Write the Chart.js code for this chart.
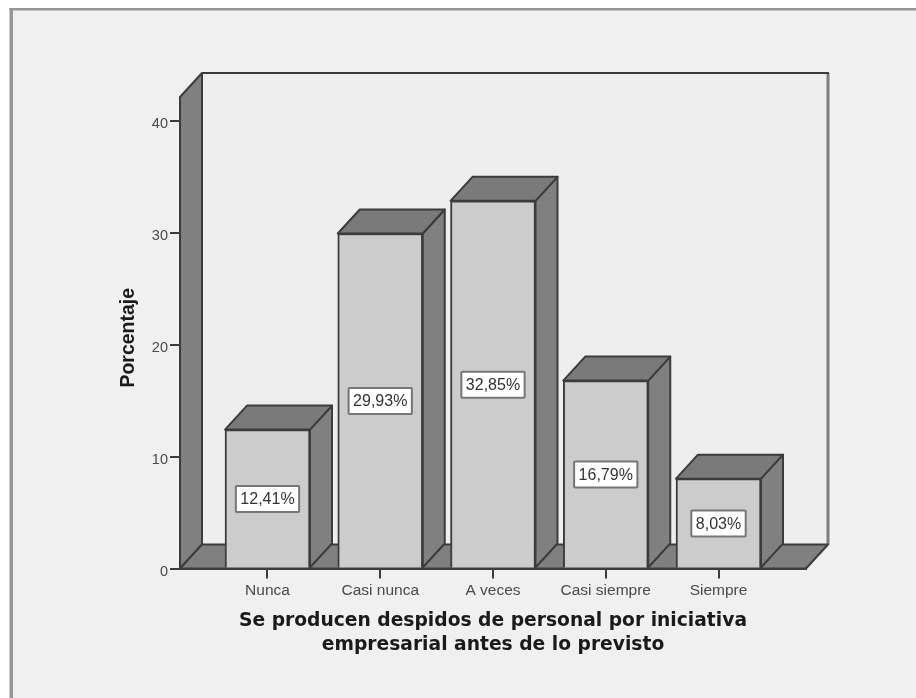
<!DOCTYPE html>
<html>
<head>
<meta charset="utf-8">
<style>
  html, body { margin: 0; padding: 0; background: #ffffff; }
  #wrap { width: 916px; height: 698px; }
</style>
<script src="https://cdn.jsdelivr.net/npm/chart.js@4/dist/chart.umd.min.js"></script>
</head>
<body>
<div id="wrap"><canvas id="chart" width="916" height="698"></canvas></div>
<script>
const categories = ['Nunca', 'Casi nunca', 'A veces', 'Casi siempre', 'Siempre'];
const percentages = [12.41, 29.93, 32.85, 16.79, 8.03];
const yTicks = [0, 10, 20, 30, 40];
const xTitleLines = ['Se producen despidos de personal por iniciativa', 'empresarial antes de lo previsto'];
const yTitle = 'Porcentaje';

const DEPTH_X = 22, DEPTH_Y = 24;
const INK = '#3c3c3c', SIDE = '#808080', FRONT = '#cccccc', WALL = '#eeeeee', PAGE = '#f0f0f0';

function poly(ctx, pts, fill, stroke, lw) {
  ctx.beginPath();
  pts.forEach((p, i) => i ? ctx.lineTo(p[0], p[1]) : ctx.moveTo(p[0], p[1]));
  ctx.closePath();
  if (fill) { ctx.fillStyle = fill; ctx.fill(); }
  if (stroke) { ctx.strokeStyle = stroke; ctx.lineWidth = lw || 2; ctx.lineJoin = 'round'; ctx.stroke(); }
}

// Panel background and the frame on its top and left sides
const framePlugin = {
  id: 'frame',
  beforeDraw(chart) {
    const { ctx, width, height } = chart;
    ctx.save();
    ctx.fillStyle = '#ffffff';
    ctx.fillRect(0, 0, width, height);
    ctx.fillStyle = PAGE;
    ctx.fillRect(11, 9, width - 11, height - 9);
    ctx.fillStyle = '#969696';
    ctx.fillRect(9.5, 8, 3.5, height - 8);
    ctx.fillRect(9.5, 8, width - 9.5, 2.5);
    ctx.restore();
  }
};

// Back wall, left wall and floor of the 3D box, placed from the chart area
const boxPlugin = {
  id: 'box',
  beforeDatasetsDraw(chart) {
    const { ctx, chartArea: a } = chart;
    const dx = DEPTH_X, dy = DEPTH_Y;
    ctx.save();
    poly(ctx, [[a.left + dx, a.top - dy], [a.right + dx, a.top - dy], [a.right + dx, a.bottom - dy], [a.left + dx, a.bottom - dy]], WALL);
    ctx.strokeStyle = '#7e7e7e'; ctx.lineWidth = 3;
    ctx.beginPath();
    ctx.moveTo(a.right + dx, a.top - dy); ctx.lineTo(a.right + dx, a.bottom - dy);
    ctx.stroke();
    ctx.strokeStyle = INK; ctx.lineWidth = 2;
    ctx.beginPath();
    ctx.moveTo(a.left + dx, a.top - dy); ctx.lineTo(a.right + dx + 1, a.top - dy);
    ctx.stroke();
    poly(ctx, [[a.left, a.top], [a.left + dx, a.top - dy], [a.left + dx, a.bottom - dy], [a.left, a.bottom]], SIDE, INK, 2);
    poly(ctx, [[a.left, a.bottom], [a.left + dx, a.bottom - dy], [a.right + dx, a.bottom - dy], [a.right, a.bottom]], SIDE, INK, 2);
    ctx.restore();
  }
};

// Side and top faces behind each bar, the white value boxes and the vertical axis title
const barFacesPlugin = {
  id: 'barFaces',
  beforeDatasetDraw(chart) {
    const { ctx } = chart;
    const dx = DEPTH_X, dy = DEPTH_Y;
    ctx.save();
    chart.getDatasetMeta(0).data.forEach(bar => {
      const l = bar.x - bar.width / 2, r = bar.x + bar.width / 2, t = bar.y, b = bar.base;
      poly(ctx, [[r, t], [r + dx, t - dy], [r + dx, b - dy], [r, b]], SIDE, INK, 2);
      poly(ctx, [[l, t], [l + dx, t - dy], [r + dx, t - dy], [r, t]], '#7a7a7a', INK, 2);
    });
    ctx.restore();
  },
  afterDatasetDraw(chart) {
    const { ctx, chartArea: a } = chart;
    ctx.save();
    ctx.font = '16px "Liberation Sans", Arial, sans-serif';
    ctx.textAlign = 'center';
    ctx.textBaseline = 'middle';
    chart.getDatasetMeta(0).data.forEach((bar, i) => {
      const text = percentages[i].toFixed(2).replace('.', ',') + '%';
      const w = ctx.measureText(text).width + 9, h = 26;
      const cy = (bar.y + bar.base) / 2 + 0.5;
      ctx.beginPath();
      ctx.roundRect(bar.x - w / 2, cy - h / 2, w, h, 1);
      ctx.fillStyle = '#ffffff';
      ctx.fill();
      ctx.strokeStyle = '#767676';
      ctx.lineWidth = 2;
      ctx.stroke();
      ctx.fillStyle = '#333333';
      ctx.fillText(text, bar.x, cy + 1);
    });
    ctx.translate(129, (a.top + a.bottom) / 2 + 5);
    ctx.rotate(-Math.PI / 2);
    ctx.font = 'bold 19.5px "Liberation Sans", Arial, sans-serif';
    ctx.fillStyle = '#1a1a1a';
    ctx.fillText(yTitle, 0, 0);
    ctx.restore();
  }
};

new Chart(document.getElementById('chart'), {
  type: 'bar',
  data: {
    datasets: [{
      data: percentages.map((v, i) => ({ x: i, y: v })),
      backgroundColor: FRONT,
      borderColor: INK,
      borderWidth: 2,
      barThickness: 85
    }]
  },
  plugins: [framePlugin, boxPlugin, barFacesPlugin],
  options: {
    responsive: false,
    animation: false,
    layout: { padding: { left: 0, right: 110, top: 97, bottom: 0 } },
    plugins: { legend: { display: false }, tooltip: { enabled: false }, title: { display: false } },
    scales: {
      x: {
        type: 'linear',
        offset: false,
        min: -0.776,
        max: 4.776,
        afterFit(scale) { scale.height = 129.5; },
        afterBuildTicks(scale) { scale.ticks = categories.map((c, i) => ({ value: i })); },
        ticks: {
          autoSkip: false,
          maxRotation: 0,
          padding: 3,
          color: '#4a4a4a',
          font: { family: '"Liberation Sans", Arial, sans-serif', size: 15.5 },
          callback: v => categories[v]
        },
        border: { display: true, color: INK, width: 2 },
        grid: { display: true, offset: false, drawOnChartArea: false, drawTicks: true, tickLength: 10, color: INK, lineWidth: 2 },
        title: {
          display: true,
          text: xTitleLines,
          color: '#1a1a1a',
          font: { family: '"DejaVu Sans", sans-serif', size: 18.7, weight: 'bold', lineHeight: 1.28 },
          padding: { top: 6, bottom: 41 }
        }
      },
      y: {
        min: 0,
        max: 42.13,
        afterFit(scale) { scale.width = 180; },
        afterBuildTicks(scale) { scale.ticks = yTicks.map(v => ({ value: v })); },
        ticks: {
          padding: 2,
          labelOffset: 3,
          color: '#4a4a4a',
          font: { family: '"Liberation Sans", Arial, sans-serif', size: 14.5 }
        },
        border: { display: false },
        grid: { display: true, drawOnChartArea: false, drawTicks: true, tickLength: 10, color: INK, lineWidth: 2 },
        title: { display: false }
      }
    }
  }
});
</script>
</body>
</html>
